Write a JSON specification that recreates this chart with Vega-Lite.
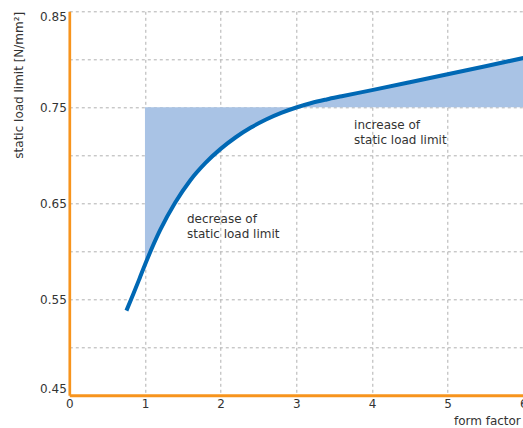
{
  "$schema": "https://vega.github.io/schema/vega-lite/v6.json",
  "width": 454,
  "height": 384,
  "autosize": {"type": "none"},
  "padding": {"left": 69.3, "top": 11.3, "right": 0, "bottom": 33},
  "background": "white",
  "config": {"font": "DejaVu Sans", "view": {"stroke": null}},
  "datasets": {
    "curve": [
      {"x": 0.755, "y": 0.5382},
      {"x": 0.85, "y": 0.5562},
      {"x": 0.93, "y": 0.572},
      {"x": 1.0, "y": 0.586},
      {"x": 1.2, "y": 0.622},
      {"x": 1.4, "y": 0.6508},
      {"x": 1.6, "y": 0.6741},
      {"x": 1.8, "y": 0.6921},
      {"x": 2.0, "y": 0.7067},
      {"x": 2.2, "y": 0.7188},
      {"x": 2.4, "y": 0.7289},
      {"x": 2.6, "y": 0.7373},
      {"x": 2.8, "y": 0.7442},
      {"x": 3.0, "y": 0.7498},
      {"x": 3.2, "y": 0.7545},
      {"x": 3.4, "y": 0.7582},
      {"x": 3.6, "y": 0.7615},
      {"x": 4.0, "y": 0.7679},
      {"x": 4.5, "y": 0.7761},
      {"x": 5.0, "y": 0.7844},
      {"x": 5.5, "y": 0.7928},
      {"x": 6.0, "y": 0.8013}
    ],
    "notes": [
      {"x": 1.555, "y": 0.6298, "label": ["decrease of", "static load limit"]},
      {"x": 3.764, "y": 0.7274, "label": ["increase of", "static load limit"]}
    ]
  },
  "layer": [
    {
      "data": {"name": "curve"},
      "transform": [{"filter": "datum.x >= 1"}],
      "mark": {"type": "area", "color": "#a9c3e5", "opacity": 1, "interpolate": "monotone"},
      "encoding": {
        "x": {
          "field": "x", "type": "quantitative",
          "scale": {"domain": [0, 6], "nice": false, "zero": false},
          "axis": {
            "values": [0, 1, 2, 3, 4, 5, 6], "format": "d",
            "grid": true, "gridDash": [3, 3], "gridColor": "#b0b0b0", "gridWidth": 1,
            "domainColor": "#f7941d", "domainWidth": 3,
            "ticks": false, "labelPadding": 3, "labelFontSize": 12, "labelColor": "#333333",
            "labelFlush": false,
            "title": "form factor", "titleFontWeight": "normal", "titleFontSize": 12, "titleColor": "#333333",
            "titleAlign": "right", "titleAnchor": "end", "titleX": 451, "titleY": 25, "titleBaseline": "middle"
          }
        },
        "y": {
          "field": "y", "type": "quantitative",
          "scale": {"domain": [0.45, 0.85], "nice": false, "zero": false},
          "axis": {
            "values": [0.45, 0.5, 0.55, 0.6, 0.65, 0.7, 0.75, 0.8, 0.85],
            "labelExpr": "indexof(['0.45','0.55','0.65','0.75','0.85'], format(datum.value,'.2f')) >= 0 ? format(datum.value,'.2f') : ''",
            "grid": true, "gridDash": [3, 3], "gridColor": "#b0b0b0", "gridWidth": 1,
            "domainColor": "#f7941d", "domainWidth": 2.7,
            "ticks": false, "labelPadding": 3, "labelFontSize": 12, "labelColor": "#333333",
            "labelFlush": true, "labelFlushOffset": 0,
            "title": "static load limit [N/mm²]", "titleFontWeight": "normal", "titleFontSize": 12, "titleColor": "#333333",
            "titleAngle": -90, "titleAlign": "right", "titleAnchor": "end", "titleX": -51.3, "titleY": 0, "titleBaseline": "middle"
          }
        },
        "y2": {"datum": 0.75}
      }
    },
    {
      "mark": {"type": "rule", "color": "#777777", "strokeWidth": 1},
      "encoding": {"y": {"datum": 0.75, "type": "quantitative"}}
    },
    {
      "mark": {"type": "rule", "color": "#777777", "strokeWidth": 1},
      "encoding": {"x": {"datum": 3, "type": "quantitative"}}
    },
    {
      "mark": {"type": "rule", "color": "#f6b46e", "strokeWidth": 1.2},
      "encoding": {"y": {"datum": 0.85, "type": "quantitative"}}
    },
    {
      "data": {"name": "curve"},
      "mark": {"type": "line", "color": "#0068b4", "strokeWidth": 4, "interpolate": "monotone", "strokeCap": "butt"},
      "encoding": {
        "x": {"field": "x", "type": "quantitative"},
        "y": {"field": "y", "type": "quantitative"}
      }
    },
    {
      "data": {"name": "notes"},
      "mark": {"type": "text", "align": "left", "baseline": "alphabetic", "fontSize": 12, "color": "#333333", "lineHeight": 15.5},
      "encoding": {
        "x": {"field": "x", "type": "quantitative"},
        "y": {"field": "y", "type": "quantitative"},
        "text": {"field": "label"}
      }
    }
  ]
}
